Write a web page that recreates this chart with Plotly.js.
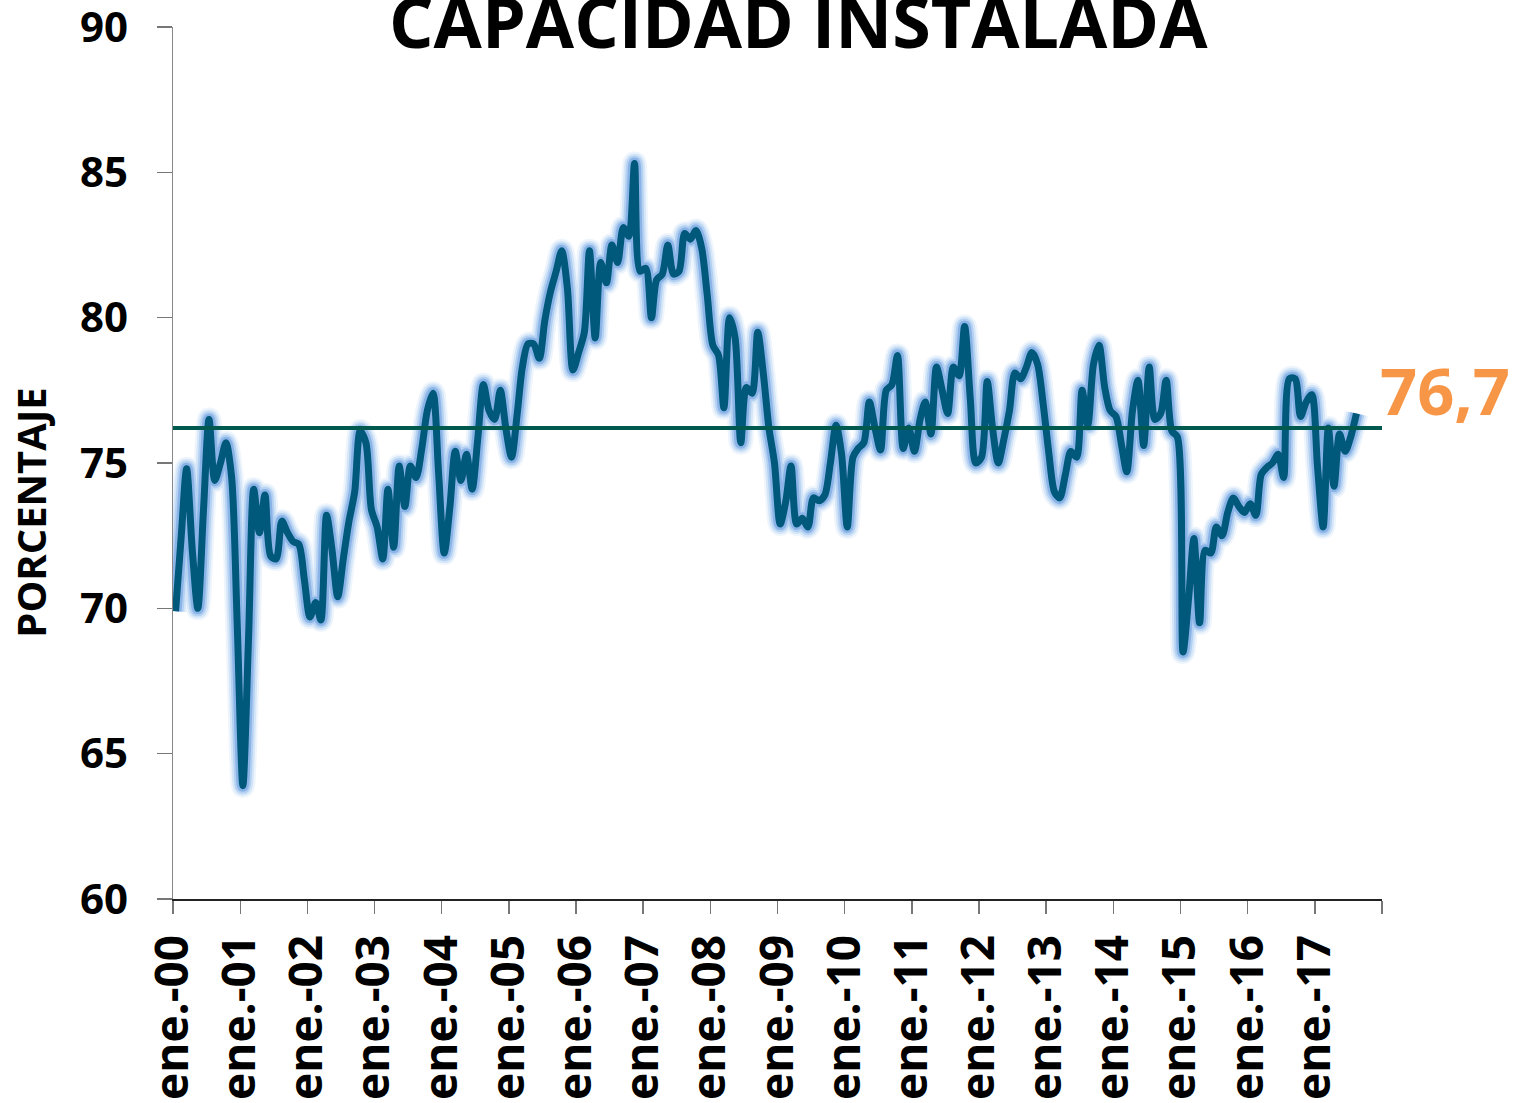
<!DOCTYPE html>
<html><head><meta charset="utf-8">
<script src="https://cdn.plot.ly/plotly-3.0.1.min.js"></script>
<style>body{margin:0;background:#fff}#chart{width:1520px;height:1103px}</style>
</head><body><div id="chart"></div>
<script>
// Monthly installed capacity (%), Jan 2000 .. Aug 2017
const capacity = [
 69.9,72.5,74.8,72.0,70.0,73.4,76.5,74.4,75.0,75.7,74.5,69.5,
 63.9,69.0,74.1,72.6,73.9,71.8,71.7,73.0,72.6,72.3,72.2,71.0,
 69.7,70.2,69.6,73.2,72.0,70.4,71.7,73.0,74.0,76.1,75.7,73.4,
 72.8,71.7,74.1,72.1,74.9,73.5,74.9,74.5,75.5,76.8,77.4,74.7,
 71.9,73.5,75.4,74.4,75.3,74.1,75.8,77.7,76.8,76.5,77.5,76.2,
 75.2,76.7,78.3,79.1,79.1,78.6,79.9,80.9,81.6,82.3,81.0,78.2,
 78.8,79.5,82.3,79.3,81.9,81.2,82.5,81.9,83.1,82.8,85.3,81.6,
 81.7,80.0,81.3,81.5,82.5,81.5,81.6,82.9,82.7,83.0,82.4,80.8,
 79.05,78.7,76.9,80.0,79.3,75.7,77.6,77.4,79.5,78.1,76.2,75.0,
 72.9,73.7,74.9,72.9,73.1,72.8,73.8,73.7,73.9,75.0,76.3,75.3,
 72.8,75.2,75.5,75.7,77.1,76.2,75.45,77.5,77.7,78.7,75.5,76.2,
 75.4,76.5,77.1,76.0,78.3,77.5,76.7,78.3,78.0,79.7,77.2,75.0,
 75.2,77.8,76.2,75.0,75.8,76.8,78.1,77.9,78.3,78.8,78.4,77.05,
 75.35,74.0,73.8,74.6,75.4,75.2,77.5,76.3,78.4,79.05,77.6,76.8,
 76.6,75.6,74.7,76.8,77.85,75.6,78.3,76.5,76.7,77.85,76.1,75.9,
 68.5,70.4,72.4,69.5,72.0,71.9,72.8,72.5,73.3,73.8,73.5,73.3,
 73.6,73.2,74.6,74.85,75.0,75.3,74.5,77.9,77.9,76.6,77.1,77.35,
 74.9,72.8,76.2,74.2,76.0,75.4,75.9,76.7
];
const averageValue = 76.2;
const lastLabel = "76,7";
const tickYears = [2000,2001,2002,2003,2004,2005,2006,2007,2008,2009,2010,2011,2012,2013,2014,2015,2016,2017,2018];
const tickLabels = ["ene.-00","ene.-01","ene.-02","ene.-03","ene.-04","ene.-05","ene.-06","ene.-07","ene.-08","ene.-09",
 "ene.-10","ene.-11","ene.-12","ene.-13","ene.-14","ene.-15","ene.-16","ene.-17",""];
const yTickVals = [60,65,70,75,80,85,90];
const titleText = "CAPACIDAD INSTALADA";
const yTitle = "PORCENTAJE";

const pad = n => (n < 10 ? "0" : "") + n;
const dates = capacity.map((v, i) => (2000 + Math.floor(i / 12)) + "-" + pad(i % 12 + 1) + "-15");
const tickVals = tickYears.map(y => y + "-01-01");

const FONT = "Open Sans, Lato, sans-serif";
const glow = (w, c) => ({x: dates, y: capacity, mode: "lines", hoverinfo: "skip",
  line: {color: c, width: w, shape: "spline", smoothing: 0.8}, showlegend: false});

const traces = [
  glow(24, "rgba(180,210,242,0.22)"),
  glow(20, "rgba(160,198,238,0.32)"),
  glow(16, "rgba(140,185,234,0.45)"),
  glow(12, "rgba(115,165,226,0.65)"),
  {x: dates, y: capacity, mode: "lines", name: "Capacidad",
   line: {color: "#00587a", width: 7, shape: "spline", smoothing: 0.8}, showlegend: false},
  {x: [tickVals[0], tickVals[tickVals.length - 1]], y: [averageValue, averageValue], mode: "lines",
   line: {color: "#00594f", width: 4}, showlegend: false, hoverinfo: "skip"}
];

const layout = {
  width: 1520, height: 1103,
  margin: {l: 173, r: 138, t: 27, b: 204},
  paper_bgcolor: "#fff", plot_bgcolor: "#fff",
  showlegend: false,
  xaxis: {
    type: "date", range: [tickVals[0], tickVals[tickVals.length - 1]],
    tickmode: "array", tickvals: tickVals, ticktext: tickLabels, tickangle: -90,
    ticks: "outside", ticklen: 13, tickcolor: "#777", tickwidth: 1.5,
    showline: true, linecolor: "#222", linewidth: 1.5, showgrid: false, zeroline: false,
    ticklabelstandoff: 3, ticklabeloverflow: "allow",
    tickfont: {family: FONT, size: 46, color: "#000", weight: 700}
  },
  yaxis: {
    range: [60, 90], tickmode: "array", tickvals: yTickVals,
    ticks: "outside", ticklen: 15, tickcolor: "#777", tickwidth: 1.5,
    showline: true, linecolor: "#888", linewidth: 1.5, showgrid: false, zeroline: false,
    ticklabelstandoff: 20, ticklabeloverflow: "allow",
    tickfont: {family: FONT, size: 42, color: "#000", weight: 700}
  },
  annotations: [
    {text: titleText, xref: "paper", yref: "paper", x: 0.517, y: 1.007, xanchor: "center", yanchor: "middle",
     showarrow: false, font: {family: FONT, size: 70, color: "#000", weight: 700}},
    {text: yTitle, xref: "paper", yref: "paper", x: -0.1175, y: 0.443, xanchor: "center", yanchor: "middle",
     textangle: -90, showarrow: false, font: {family: FONT, size: 40, color: "#000", weight: 700}},
    {text: lastLabel, xref: "x", yref: "y", x: dates[dates.length - 1], y: capacity[capacity.length - 1],
     xanchor: "left", yanchor: "middle", xshift: 22, yshift: 24, showarrow: false,
     font: {family: FONT, size: 65, color: "#f79646", weight: 700}}
  ]
};

Plotly.newPlot("chart", traces, layout, {displayModeBar: false, staticPlot: true});
</script>
</body></html>
